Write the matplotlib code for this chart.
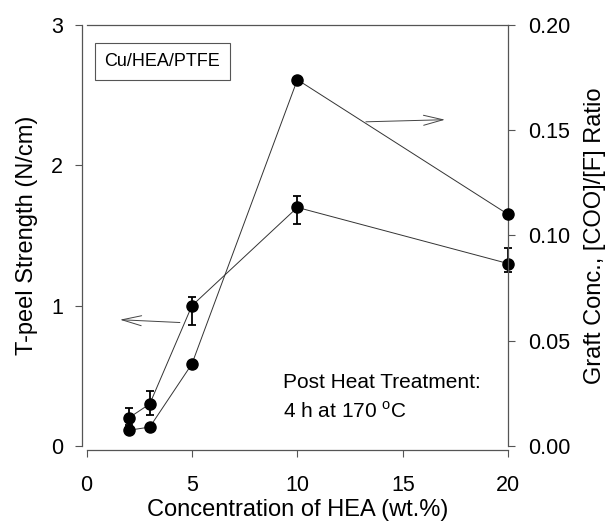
import matplotlib
matplotlib.use("Agg")
import matplotlib.pyplot as plt
from matplotlib.ticker import FormatStrFormatter

# HEA concentration (wt.%)
hea = [2, 3, 5, 10, 20]
# T-peel strength (N/cm) with asymmetric error bars
peel = [0.2, 0.3, 1.0, 1.7, 1.3]
peel_err_low = [0.05, 0.08, 0.14, 0.12, 0.06]
peel_err_high = [0.07, 0.09, 0.06, 0.08, 0.11]
# Graft concentration, [COO]/[F] ratio
graft = [0.0075, 0.009, 0.039, 0.174, 0.110]

x_ticks = [0, 5, 10, 15, 20]
left_ticks = [0, 1, 2, 3]
right_ticks = [0.00, 0.05, 0.10, 0.15, 0.20]

plt.rcParams["font.family"] = ["Liberation Sans", "DejaVu Sans"]
plt.rcParams["mathtext.fontset"] = "custom"
plt.rcParams["mathtext.rm"] = "Liberation Sans"

axis_col = "#555555"
line_col = "#333333"

fig = plt.figure(figsize=(6.05, 5.31), dpi=100)
ax = fig.add_axes([0.143, 0.160, 0.697, 0.793])

eb = ax.errorbar(hea, peel, yerr=[peel_err_low, peel_err_high], fmt="o-",
                 color=line_col, mfc="black", mec="black", ecolor="black",
                 ms=8, lw=0.7, elinewidth=1.3, capsize=3.2, capthick=1.3,
                 zorder=3)
for artist in eb.get_children():
    artist.set_clip_on(False)
ax.set_xlim(0, 20)
ax.set_ylim(0, 3)
ax.set_xticks(x_ticks)
ax.set_yticks(left_ticks)

ax2 = ax.twinx()
ax2.plot(hea, graft, "o-", color=line_col, mfc="black", mec="black",
         ms=8, lw=0.7, zorder=3, clip_on=False)
ax2.set_ylim(0, 0.2)
ax2.set_yticks(right_ticks)
ax2.yaxis.set_major_formatter(FormatStrFormatter("%.2f"))

for a in (ax, ax2):
    for s in a.spines.values():
        s.set_color(axis_col)
        s.set_linewidth(0.9)
ax.spines["left"].set_position(("outward", 3))
ax.spines["bottom"].set_position(("outward", 3))
ax.spines["right"].set_visible(False)
ax2.spines["left"].set_visible(False)
ax2.spines["bottom"].set_visible(False)
ax2.spines["top"].set_visible(False)

ax.tick_params(axis="both", direction="out", length=5, width=0.8,
               color=axis_col, labelsize=15.5)
ax.tick_params(axis="y", pad=9)
ax.tick_params(axis="x", pad=13)
ax2.tick_params(axis="y", direction="out", length=5, width=0.8,
                color=axis_col, labelsize=15.5, pad=9)

ax.set_xlabel("Concentration of HEA (wt.%)", fontsize=17, labelpad=2)
ax.set_ylabel("T-peel Strength (N/cm)", fontsize=17, labelpad=9)
ax2.set_ylabel("Graft Conc., [COO]/[F] Ratio", fontsize=17, labelpad=10)

ax.text(0.85, 2.74, "Cu/HEA/PTFE", fontsize=13, va="center", ha="left",
        bbox=dict(boxstyle="square,pad=0.55", fc="white", ec=axis_col, lw=0.8))
ax.text(9.34, 0.45, "Post Heat Treatment:", fontsize=15, va="center", ha="left")
ax.text(9.34, 0.25, "4 h at 170 $^{\\mathrm{o}}$C", fontsize=15, va="center", ha="left")

arrow_props = dict(arrowstyle="->,head_length=1.4,head_width=0.36",
                   lw=0.7, color="#444444", shrinkA=0, shrinkB=0,
                   mutation_scale=10)
ax.annotate("", xy=(1.59, 0.90), xytext=(4.43, 0.88), arrowprops=arrow_props)
ax2.annotate("", xy=(17.0, 0.155), xytext=(13.25, 0.154), arrowprops=arrow_props)

fig.savefig("out.png", dpi=100)
